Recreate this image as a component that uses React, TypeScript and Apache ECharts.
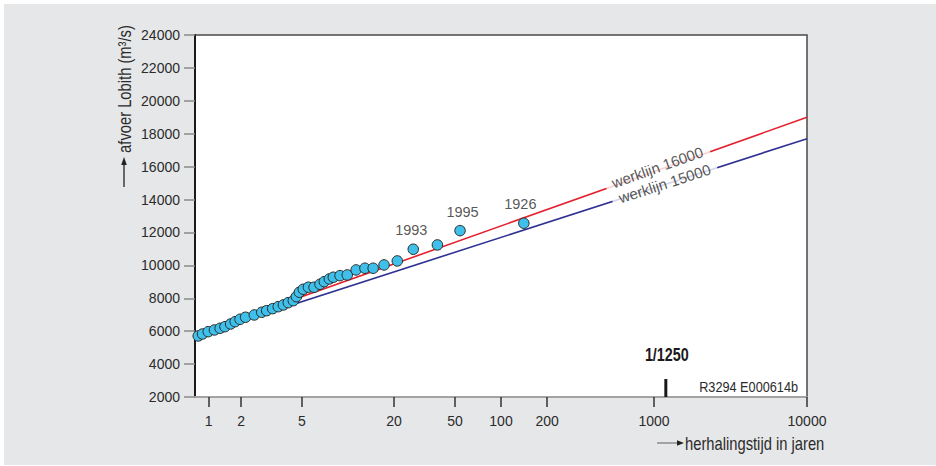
import React, { useEffect, useRef } from "react";
import * as echarts from "echarts";

// ---- data ----
const dotReturnPeriods = [
  1.05, 1.12, 1.22, 1.34, 1.46, 1.57, 1.71, 1.83, 1.97, 2.14, 2.44, 2.73, 2.94,
  3.22, 3.5, 3.78, 4.07, 4.39, 4.6, 4.81, 5.1, 5.51, 6.0, 6.56, 7.0, 7.55, 8.02,
  8.87, 9.89, 11.3, 12.9, 14.6, 17.2, 21.0, 26.7, 38.4, 54, 141,
];
const dotDischarges = [
  5710, 5830, 5970, 6074, 6177, 6274, 6438, 6578, 6724, 6846, 6986, 7150, 7247,
  7369, 7490, 7594, 7733, 7855, 8098, 8366, 8548, 8670, 8670, 8852, 9010, 9174,
  9278, 9375, 9418, 9722, 9825, 9825, 10026, 10269, 10980, 11242, 12111, 12561,
];
const annotatedIndex = [34, 36, 37];
const annotatedYears = ["1993", "1995", "1926"];

const redLinePeriods = [1, 10000];
const redLineDischarges = [5790, 19000];
const blueLinePeriods = [1, 10000];
const blueLineDischarges = [5700, 17700];

const lineLabelTexts = ["werklijn 16000", "werklijn 15000"];
const lineLabelPeriods = [1067, 1178];
const lineLabelDischarges = [15790, 14913];

const xTickPeriods = [1.23, 2, 5, 20, 50, 100, 200, 1000, 10000];
const xTickLabels = ["1", "2", "5", "20", "50", "100", "200", "1000", "10000"];

const designReturnPeriod = 1250;
const designLabel = "1/1250";
const codeLabel = "R3294 E000614b";
const yAxisName = "afvoer Lobith (m³/s)";
const xAxisName = "herhalingstijd in jaren";

// ---- style ----
const FONT = "'Liberation Sans', Arial, Helvetica, sans-serif";
const TEXT = "#2b2b2b";
const RED = "#e3212d";
const BLUE = "#2e3192";
const DOT = "#3fc0ea";
const NARROW = 0.82;

const lg = (v: number) => Math.log10(v);

export default function App() {
  const ref = useRef<HTMLDivElement>(null);

  useEffect(() => {
    document.body.style.margin = "0";
    if (!ref.current) return;
    const chart = echarts.init(ref.current, undefined, { renderer: "svg" });

    const tickPos = xTickPeriods.map(lg);

    const option: any = {
      animation: false,
      backgroundColor: "transparent",
      textStyle: { fontFamily: FONT },
      grid: {
        left: 195,
        top: 35,
        right: 129,
        bottom: 69,
        show: true,
        backgroundColor: "#ffffff",
        borderColor: "#4a4a4a",
        borderWidth: 1.5,
      },
      xAxis: {
        type: "value",
        min: 0,
        max: 4,
        axisLine: {
          show: true,
          onZero: false,
          lineStyle: { color: "#a3a3a3", width: 2 },
        },
        splitLine: { show: false },
        axisTick: {
          show: true,
          length: 10,
          customValues: tickPos,
          lineStyle: { color: "#333333", width: 1.5 },
        },
        axisLabel: {
          customValues: tickPos,
          formatter: (v: number) => {
            const i = tickPos.findIndex((t) => Math.abs(t - v) < 1e-6);
            return i >= 0 ? xTickLabels[i] : "";
          },
          margin: 17,
          fontSize: 14,
          color: TEXT,
          fontFamily: FONT,
        },
      },
      yAxis: {
        type: "value",
        min: 2000,
        max: 24000,
        interval: 2000,
        axisLine: { show: true, lineStyle: { color: "#1a1a1a", width: 2 } },
        axisTick: {
          show: true,
          length: 11,
          lineStyle: { color: "#8a8a8a", width: 1.5 },
        },
        splitLine: { show: false },
        axisLabel: {
          formatter: (v: number) => String(v),
          margin: 15,
          fontSize: 14,
          color: TEXT,
          fontFamily: FONT,
        },
      },
      series: [
        {
          type: "line",
          data: redLinePeriods.map((t, i) => [lg(t), redLineDischarges[i]]),
          symbol: "none",
          lineStyle: { color: RED, width: 1.6 },
          z: 2,
          silent: true,
        },
        {
          type: "line",
          data: blueLinePeriods.map((t, i) => [lg(t), blueLineDischarges[i]]),
          symbol: "none",
          lineStyle: { color: BLUE, width: 1.6 },
          z: 2,
          silent: true,
        },
        {
          type: "scatter",
          data: lineLabelTexts.map((txt, i) => ({
            value: [lg(lineLabelPeriods[i]), lineLabelDischarges[i]],
            label: {
              formatter: txt,
              rotate: i === 0 ? 19.5 : 18,
              offset: [0, i === 0 ? -3 : -1],
            },
          })),
          symbolSize: 0,
          z: 3,
          silent: true,
          label: {
            show: true,
            position: "inside",
            backgroundColor: "#ffffff",
            padding: [0, 7],
            fontSize: 15,
            color: TEXT,
            fontFamily: FONT,
          },
        },
        {
          type: "scatter",
          data: dotReturnPeriods.map((t, i) => [lg(t), dotDischarges[i]]),
          symbolSize: 10.5,
          itemStyle: { color: DOT, borderColor: "#2a2a2a", borderWidth: 1, opacity: 1 },
          z: 5,
        },
        {
          type: "scatter",
          data: annotatedIndex.map((idx, k) => ({
            value: [lg(dotReturnPeriods[idx]), dotDischarges[idx]],
            label: {
              formatter: annotatedYears[k],
              offset: [[-2, 2.5, -3.5][k], -19],
            },
          })),
          symbolSize: 0,
          z: 6,
          silent: true,
          label: {
            show: true,
            position: "inside",
            fontSize: 14.5,
            color: TEXT,
            fontFamily: FONT,
          },
        },
      ],
    };
    chart.setOption(option);

    const [mx, my] = chart.convertToPixel({ xAxisIndex: 0, yAxisIndex: 0 }, [
      lg(designReturnPeriod),
      2000,
    ]) as number[];

    chart.setOption({
      graphic: [
        // y axis name
        {
          type: "text",
          x: 124,
          y: 89,
          rotation: Math.PI / 2,
          scaleX: NARROW,
          style: {
            text: yAxisName,
            fontSize: 18,
            fontFamily: FONT,
            fill: TEXT,
            align: "center",
            verticalAlign: "middle",
          },
        },
        {
          type: "line",
          shape: { x1: 124, y1: 187, x2: 124, y2: 163 },
          style: { stroke: "#222", lineWidth: 1.3 },
        },
        {
          type: "polygon",
          shape: { points: [[124, 157], [121.2, 165], [126.8, 165]] },
          style: { fill: "#222" },
        },
        // x axis name
        {
          type: "line",
          shape: { x1: 657, y1: 443, x2: 679, y2: 443 },
          style: { stroke: "#777", lineWidth: 1.2 },
        },
        {
          type: "polygon",
          shape: { points: [[684, 443], [677, 440.3], [677, 445.7]] },
          style: { fill: "#222" },
        },
        {
          type: "text",
          x: 685,
          y: 443,
          scaleX: NARROW,
          style: {
            text: xAxisName,
            fontSize: 18,
            fontFamily: FONT,
            fill: TEXT,
            align: "left",
            verticalAlign: "middle",
          },
        },
        // code label
        {
          type: "text",
          x: 798,
          y: 387,
          scaleX: NARROW,
          style: {
            text: codeLabel,
            fontSize: 15.5,
            fontFamily: FONT,
            fill: TEXT,
            align: "right",
            verticalAlign: "middle",
          },
        },
        // design return period marker
        {
          type: "line",
          shape: { x1: mx - 3, y1: my - 18, x2: mx - 3, y2: my },
          style: { stroke: "#1a1a1a", lineWidth: 3 },
          z: 10,
        },
        {
          type: "text",
          x: mx - 2,
          y: 355,
          scaleX: NARROW,
          style: {
            text: designLabel,
            fontSize: 17.5,
            fontWeight: "bold",
            fontFamily: FONT,
            fill: "#1a1a1a",
            align: "center",
            verticalAlign: "middle",
          },
        },
      ],
    });

    return () => chart.dispose();
  }, []);

  return (
    <div
      style={{
        position: "relative",
        width: 936,
        height: 466,
        background: "#ffffff",
        overflow: "hidden",
      }}
    >
      <div
        style={{
          position: "absolute",
          left: 4,
          top: 4,
          width: 932,
          height: 461,
          background: "#e6e7e9",
        }}
      />
      <div
        ref={ref}
        style={{ position: "absolute", left: 0, top: 0, width: 936, height: 466 }}
      />
    </div>
  );
}
